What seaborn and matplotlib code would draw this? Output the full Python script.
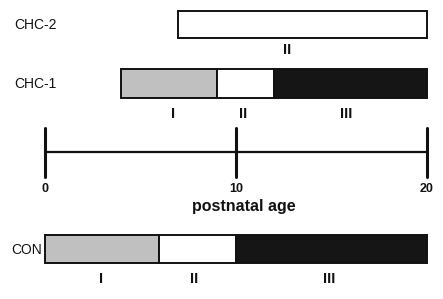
import matplotlib
matplotlib.use("Agg")
import matplotlib.pyplot as plt
import seaborn as sns
import pandas as pd

# ---- data ----
rows = ["CHC-2", "CHC-1", "CON"]
seg_row = ["CHC-2", "CHC-1", "CHC-1", "CHC-1", "CON", "CON", "CON"]
seg_start = [7, 4, 9, 12, 0, 6, 10]
seg_end = [20, 9, 12, 20, 6, 10, 20]
seg_stage = ["II", "I", "II", "III", "I", "II", "III"]
label_x = [12.7, 6.7, 10.4, 15.8, 2.95, 7.8, 14.9]
ticks = [0, 10, 20]
xlabel = "postnatal age"

stage_colors = {"I": "#c0c0c0", "II": "#ffffff", "III": "#151515"}

df = pd.DataFrame({"row": seg_row, "start": seg_start, "end": seg_end,
                   "stage": seg_stage, "lx": label_x})
df["width"] = df["end"] - df["start"]

sns.set_theme(style="white")
plt.rcParams["font.family"] = ["Liberation Sans", "DejaVu Sans"]

W, H = 443, 299
fig = plt.figure(figsize=(W / 100, H / 100), dpi=100)
ax = fig.add_axes([0, 0, 1, 1])
px = 19.125
ax.set_xlim(-44.5 / px, (W - 44.5) / px)
ax.set_ylim(H, 0)
ax.axis("off")

row_y = {"CHC-2": 24.5, "CHC-1": 83.5, "CON": 249}
row_h = {"CHC-2": 27, "CHC-1": 29, "CON": 28}
label_dy = {"CHC-2": 26, "CHC-1": 30, "CON": 30}
row_label_pos = {"CHC-2": (14, 25), "CHC-1": (14, 84), "CON": (11, 250)}

for _, r in df.iterrows():
    y = row_y[r["row"]]
    ax.barh(y, r["width"], left=r["start"], height=row_h[r["row"]],
            color=stage_colors[r["stage"]], edgecolor="#111111", linewidth=1.4,
            zorder=2)
    ax.text(r["lx"], y + label_dy[r["row"]], r["stage"], ha="center", va="center",
            fontsize=10.5, fontweight="bold", color="#111111")

for name in rows:
    x0, y0 = row_label_pos[name]
    ax.text(x0 / px - 44.5 / px, y0, name, ha="left", va="center",
            fontsize=10, color="#111111", zorder=3)

# time axis
axis_y = 152
ax.plot([ticks[0], ticks[-1]], [axis_y, axis_y], color="#111111", lw=1.6)
for t in ticks:
    ax.plot([t, t], [128, 177], color="#111111", lw=2.2)
    ax.text(t, 189, str(t), ha="center", va="center", fontsize=9,
            fontweight="bold", color="#111111")
ax.text(10.4, 207, xlabel, ha="center", va="center", fontsize=11.5,
        fontweight="bold", color="#111111")

fig.savefig("out.png", dpi=100)
